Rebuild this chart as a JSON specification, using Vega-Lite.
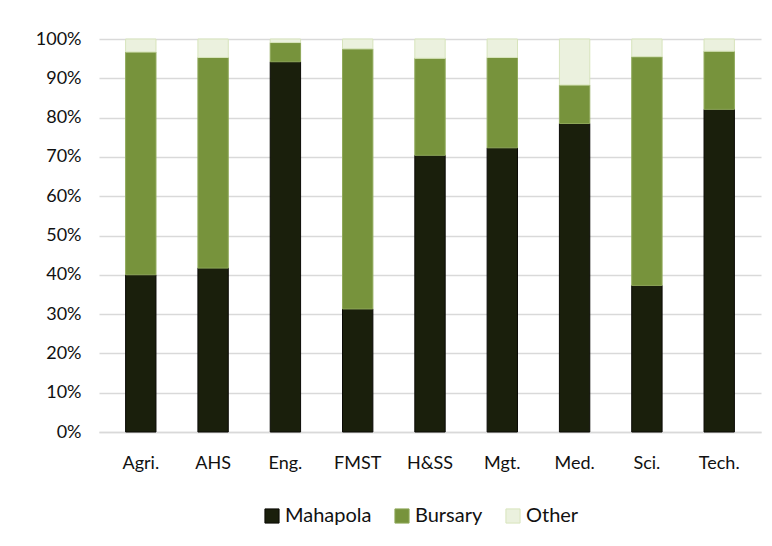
{
  "$schema": "https://vega.github.io/schema/vega-lite/v6.json",
  "width": 662,
  "height": 393,
  "autosize": {"type": "none"},
  "padding": {"left": 99, "top": 39, "right": 11, "bottom": 114},
  "background": "white",
  "data": {
    "values": [
      {"faculty": "Agri.", "type": "Mahapola", "k": 1, "value": 40.0},
      {"faculty": "Agri.", "type": "Bursary", "k": 2, "value": 56.7},
      {"faculty": "Agri.", "type": "Other", "k": 3, "value": 3.3},
      {"faculty": "AHS", "type": "Mahapola", "k": 1, "value": 41.7},
      {"faculty": "AHS", "type": "Bursary", "k": 2, "value": 53.6},
      {"faculty": "AHS", "type": "Other", "k": 3, "value": 4.7},
      {"faculty": "Eng.", "type": "Mahapola", "k": 1, "value": 94.2},
      {"faculty": "Eng.", "type": "Bursary", "k": 2, "value": 4.9},
      {"faculty": "Eng.", "type": "Other", "k": 3, "value": 0.9},
      {"faculty": "FMST", "type": "Mahapola", "k": 1, "value": 31.3},
      {"faculty": "FMST", "type": "Bursary", "k": 2, "value": 66.2},
      {"faculty": "FMST", "type": "Other", "k": 3, "value": 2.5},
      {"faculty": "H&SS", "type": "Mahapola", "k": 1, "value": 70.4},
      {"faculty": "H&SS", "type": "Bursary", "k": 2, "value": 24.7},
      {"faculty": "H&SS", "type": "Other", "k": 3, "value": 4.9},
      {"faculty": "Mgt.", "type": "Mahapola", "k": 1, "value": 72.3},
      {"faculty": "Mgt.", "type": "Bursary", "k": 2, "value": 23.0},
      {"faculty": "Mgt.", "type": "Other", "k": 3, "value": 4.7},
      {"faculty": "Med.", "type": "Mahapola", "k": 1, "value": 78.5},
      {"faculty": "Med.", "type": "Bursary", "k": 2, "value": 9.8},
      {"faculty": "Med.", "type": "Other", "k": 3, "value": 11.7},
      {"faculty": "Sci.", "type": "Mahapola", "k": 1, "value": 37.3},
      {"faculty": "Sci.", "type": "Bursary", "k": 2, "value": 58.2},
      {"faculty": "Sci.", "type": "Other", "k": 3, "value": 4.5},
      {"faculty": "Tech.", "type": "Mahapola", "k": 1, "value": 82.1},
      {"faculty": "Tech.", "type": "Bursary", "k": 2, "value": 14.8},
      {"faculty": "Tech.", "type": "Other", "k": 3, "value": 3.1}
    ]
  },
  "mark": {"type": "bar", "strokeWidth": 1},
  "encoding": {
    "x": {
      "field": "faculty",
      "type": "nominal",
      "sort": null,
      "scale": {"paddingInner": 0.58, "paddingOuter": 0.368},
      "axis": {
        "title": null,
        "labelAngle": 0,
        "labelFont": "Lato",
        "labelFontSize": 18,
        "labelColor": "#111111",
        "labelPadding": 22,
        "ticks": false,
        "domainColor": "#d9d9d9",
        "domainWidth": 1.5,
        "grid": false
      }
    },
    "y": {
      "field": "value",
      "type": "quantitative",
      "stack": "normalize",
      "scale": {"domain": [0, 1]},
      "axis": {
        "title": null,
        "format": ".0%",
        "values": [0, 0.1, 0.2, 0.3, 0.4, 0.5, 0.6, 0.7, 0.8, 0.9, 1],
        "labelOverlap": false,
        "labelFont": "Lato",
        "labelFontSize": 18,
        "labelColor": "#111111",
        "labelPadding": 18,
        "ticks": false,
        "domain": false,
        "gridColor": "#d9d9d9",
        "gridWidth": 1.5
      }
    },
    "color": {
      "field": "type",
      "type": "nominal",
      "sort": ["Mahapola", "Bursary", "Other"],
      "scale": {
        "domain": ["Mahapola", "Bursary", "Other"],
        "range": ["#1a1f0c", "#77933c", "#ebf1de"]
      },
      "legend": {
        "title": null,
        "orient": "none",
        "legendX": 163,
        "legendY": 467,
        "direction": "horizontal",
        "symbolType": "square",
        "symbolSize": 200,
        "symbolStrokeWidth": 1,
        "labelFont": "Lato",
        "labelFontSize": 20,
        "labelColor": "#111111",
        "columnPadding": 20,
        "labelOffset": 3
      }
    },
    "stroke": {
      "field": "type",
      "type": "nominal",
      "scale": {
        "domain": ["Mahapola", "Bursary", "Other"],
        "range": ["#0a0a05", "#8fa85a", "#d7e4bc"]
      },
      "legend": null
    },
    "order": {"field": "k", "type": "quantitative"}
  },
  "config": {
    "view": {"stroke": null}
  }
}
